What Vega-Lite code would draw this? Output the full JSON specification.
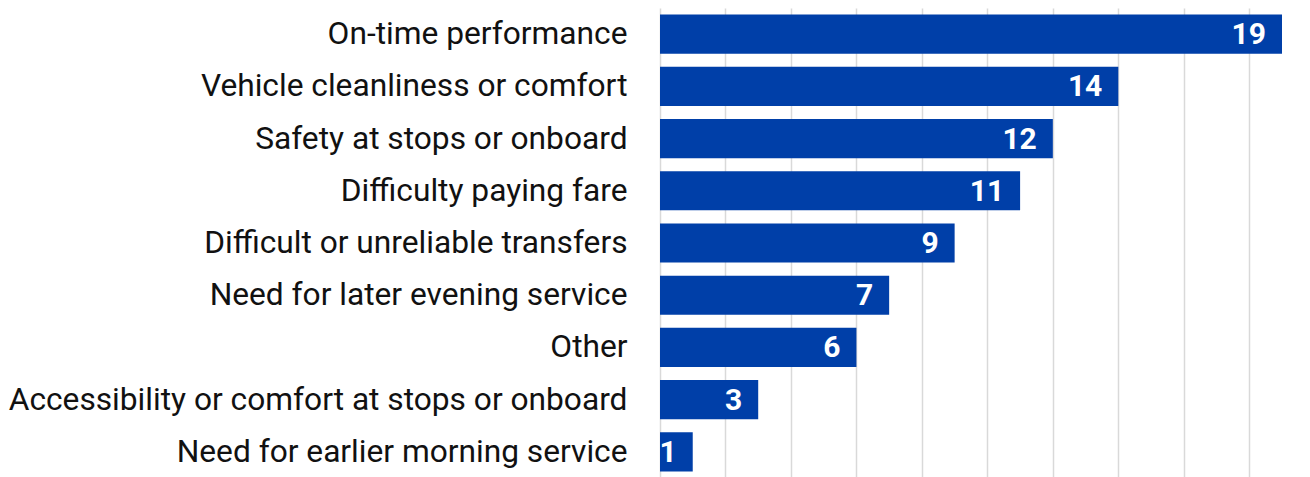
{
  "$schema": "https://vega.github.io/schema/vega-lite/v6.json",
  "autosize": {"type": "none"},
  "padding": {"left": 660, "top": 8, "right": 0, "bottom": 0},
  "width": 622,
  "height": 470,
  "background": "white",
  "data": {"values": [
    {"category": "On-time performance", "value": 19},
    {"category": "Vehicle cleanliness or comfort", "value": 14},
    {"category": "Safety at stops or onboard", "value": 12},
    {"category": "Difficulty paying fare", "value": 11},
    {"category": "Difficult or unreliable transfers", "value": 9},
    {"category": "Need for later evening service", "value": 7},
    {"category": "Other", "value": 6},
    {"category": "Accessibility or comfort at stops or onboard", "value": 3},
    {"category": "Need for earlier morning service", "value": 1}
  ]},
  "config": {"view": {"stroke": null}},
  "encoding": {
    "y": {
      "field": "category", "type": "nominal", "sort": null,
      "scale": {"paddingInner": 0.25, "paddingOuter": 0.125},
      "axis": {"title": null, "ticks": false, "domain": false, "labelPadding": 33, "labelLimit": 700,
               "labelFont": "Roboto", "labelFontSize": 31.7, "labelColor": "#111111", "grid": false}
    },
    "x": {
      "field": "value", "type": "quantitative",
      "scale": {"domain": [0, 19], "nice": false, "zero": true},
      "axis": {"title": null, "labels": false, "ticks": false, "domain": false, "grid": true,
               "values": [0, 2, 4, 6, 8, 10, 12, 14, 16, 18],
               "gridColor": "#d9d9d9", "gridWidth": 1.5}
    }
  },
  "layer": [
    {"mark": {"type": "bar", "color": "#003FA8"}},
    {"mark": {"type": "text", "align": "right", "baseline": "middle", "dx": -16, "dy": 1,
              "color": "white", "font": "Roboto", "fontWeight": "bold", "fontSize": 30},
     "encoding": {"text": {"field": "value", "type": "quantitative"}}}
  ]
}
